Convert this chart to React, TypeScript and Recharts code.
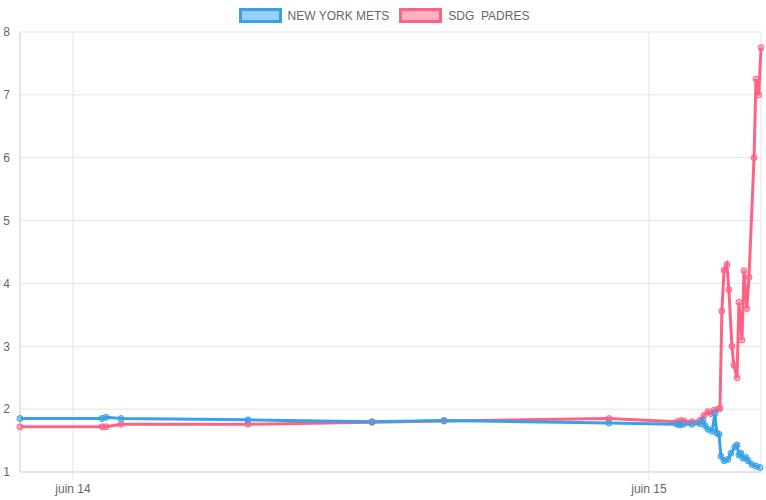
import React from 'react';
import { LineChart, Line, XAxis, YAxis, CartesianGrid } from 'recharts';

// hours since juin 14 00:00
const metsHours = [
  -2.21, 1.21, 1.375, 2.0, 7.29, 12.46, 15.46, 22.33, 25.17, 25.29, 25.42, 25.79, 26.13, 26.25, 26.33,
  26.46, 26.63, 26.75, 26.83, 26.92, 27.0, 27.13, 27.29, 27.42, 27.58, 27.67, 27.75, 27.83, 27.92,
  28.04, 28.13, 28.29, 28.46, 28.63,
];
const metsOdds = [
  1.85, 1.85, 1.87, 1.85, 1.83, 1.8, 1.82, 1.78, 1.76, 1.75, 1.76, 1.76, 1.77, 1.82, 1.74,
  1.68, 1.65, 1.93, 1.62, 1.6, 1.25, 1.18, 1.2, 1.3, 1.4, 1.43, 1.27, 1.3, 1.22,
  1.23, 1.18, 1.12, 1.09, 1.07,
];

const padresHours = [
  -2.21, 1.21, 1.375, 2.0, 7.29, 12.46, 15.46, 22.33, 25.17, 25.33, 25.46, 25.79, 26.13, 26.29, 26.46,
  26.58, 26.71, 26.88, 26.96, 27.04, 27.13, 27.25, 27.33, 27.46, 27.54, 27.67, 27.75, 27.88, 27.96,
  28.08, 28.17, 28.38, 28.46, 28.58, 28.67,
];
const padresOdds = [
  1.72, 1.72, 1.72, 1.76, 1.76, 1.79, 1.81, 1.85, 1.8, 1.82, 1.81, 1.8, 1.82, 1.9, 1.96,
  1.93, 1.98, 2.0, 2.01, 3.56, 4.21, 4.3, 3.9, 3.0, 2.7, 2.5, 3.7, 3.1, 4.2,
  3.6, 4.1, 6.0, 7.25, 7.0, 7.75,
];

const xTicks = [0, 24];
const xTickLabels = ['juin 14', 'juin 15'];
const yTicks = [1, 2, 3, 4, 5, 6, 7, 8];

const metsData = metsHours.map((t, i) => ({ t, v: metsOdds[i] }));
const padresData = padresHours.map((t, i) => ({ t, v: padresOdds[i] }));

const BLUE = 'rgb(54, 162, 235)';
const RED = 'rgb(255, 99, 132)';
const FONT = '"Liberation Sans", Arial, Helvetica, sans-serif';
const GRID = '#e5e5e5';

const LegendItem = ({ color, fill, label }: { color: string; fill: string; label: string }) => (
  <div style={{ display: 'flex', alignItems: 'center', marginRight: 10 }}>
    <div style={{ width: 37, height: 9, border: `3px solid ${color}`, background: fill, marginRight: 6 }} />
    <span style={{ whiteSpace: 'pre' }}>{label}</span>
  </div>
);

export default function App() {
  return (
    <div style={{ position: 'absolute', left: 0, top: 0, width: 766, height: 500, fontFamily: FONT }}>
      <div
        style={{
          position: 'absolute',
          top: 8,
          left: 0,
          width: 766,
          display: 'flex',
          justifyContent: 'center',
          fontSize: 12,
          color: '#666',
          paddingLeft: 12,
          boxSizing: 'border-box',
        }}
      >
        <LegendItem color={BLUE} fill="rgba(54, 162, 235, 0.5)" label="NEW YORK METS" />
        <LegendItem color={RED} fill="rgba(255, 99, 132, 0.5)" label="SDG  PADRES" />
      </div>
      <LineChart width={766} height={500} margin={{ top: 32, right: 5, bottom: 0, left: 0 }}>
        <CartesianGrid stroke={GRID} />
        <XAxis
          type="number"
          dataKey="t"
          domain={[-2.21, 28.67]}
          ticks={xTicks}
          tickFormatter={(v: number) => xTickLabels[xTicks.indexOf(v)] ?? ''}
          height={28}
          tickSize={8}
          tickMargin={4}
          stroke={GRID}
          tick={{ fill: '#666', fontSize: 12, fontFamily: FONT }}
          axisLine={{ stroke: '#d9d9d9' }}
          tickLine={{ stroke: GRID }}
        />
        <YAxis
          type="number"
          domain={[1, 8]}
          ticks={yTicks}
          width={20}
          tickSize={0}
          tickMargin={10}
          tickLine={false}
          axisLine={{ stroke: '#d9d9d9' }}
          tick={{ fill: '#666', fontSize: 12, fontFamily: FONT }}
        />
        <Line
          data={padresData}
          dataKey="v"
          type="linear"
          stroke={RED}
          strokeWidth={3}
          dot={{ r: 3, fill: 'rgba(255, 99, 132, 0.5)', stroke: RED, strokeWidth: 1 }}
          isAnimationActive={false}
        />
        <Line
          data={metsData}
          dataKey="v"
          type="linear"
          stroke={BLUE}
          strokeWidth={3}
          dot={{ r: 3, fill: 'rgba(54, 162, 235, 0.5)', stroke: BLUE, strokeWidth: 1 }}
          isAnimationActive={false}
        />
      </LineChart>
    </div>
  );
}
